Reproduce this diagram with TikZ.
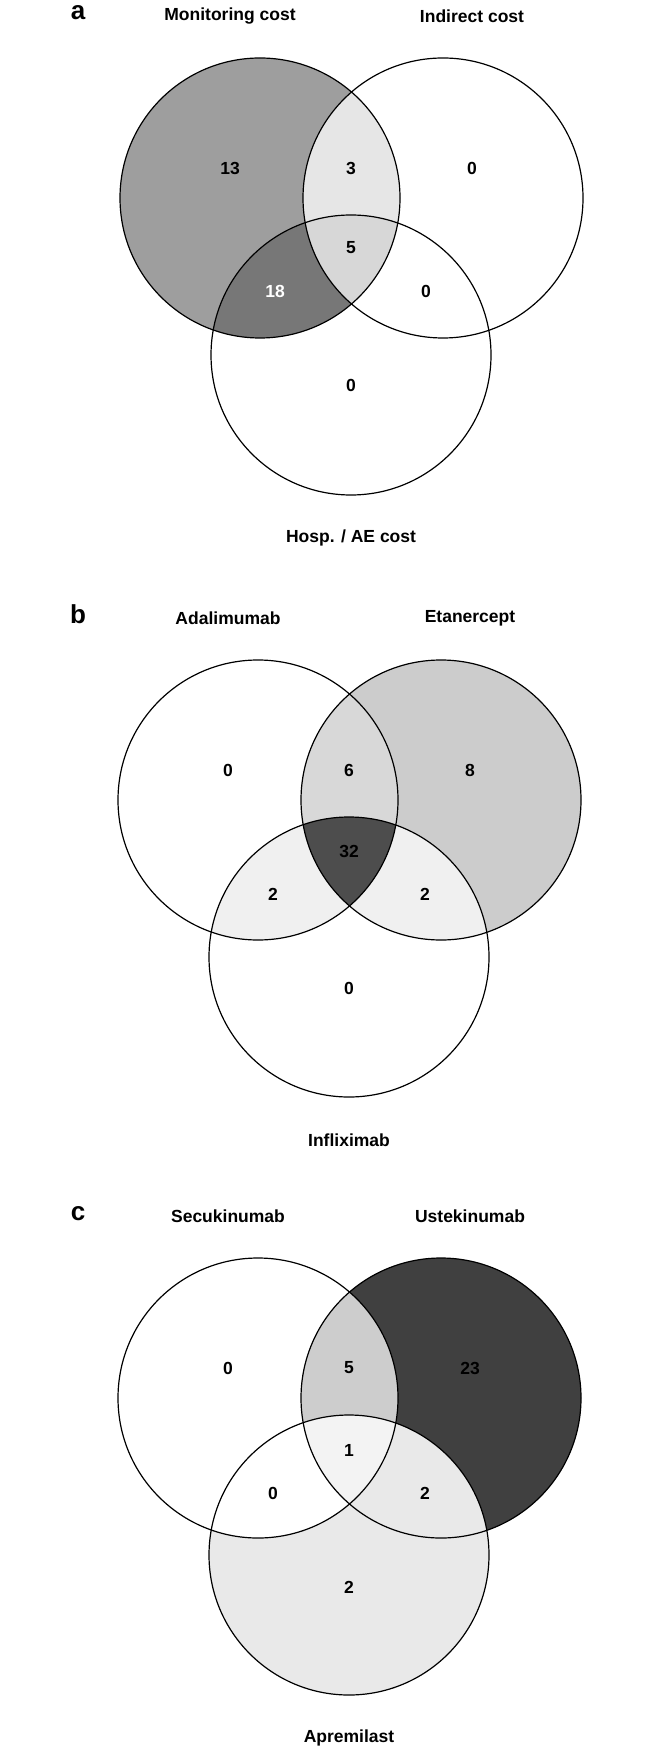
\documentclass[tikz,border=0pt]{standalone}
\usepackage{fontspec}
\setmainfont{Liberation Sans}
\definecolor{gA}{HTML}{9E9E9E}
\definecolor{gAB}{HTML}{E6E6E6}
\definecolor{gAC}{HTML}{777777}
\definecolor{gABC}{HTML}{D7D7D7}
\definecolor{hB}{HTML}{CCCCCC}
\definecolor{hAB}{HTML}{D8D8D8}
\definecolor{hX}{HTML}{F0F0F0}
\definecolor{hABC}{HTML}{4D4D4D}
\definecolor{kB}{HTML}{404040}
\definecolor{kAB}{HTML}{CDCDCD}
\definecolor{kC}{HTML}{E9E9E9}
\definecolor{kABC}{HTML}{F3F3F3}
\def\R{70pt}
\begin{document}
\begin{tikzpicture}[x=0.5pt,y=-0.5pt,
  ring/.style={draw=black,line width=0.6pt},
  lab/.style={font=\fontsize{8.75}{10}\selectfont\bfseries,inner sep=0pt},
  num/.style={font=\fontsize{8.75}{10}\selectfont\bfseries,inner sep=0pt},
  letter/.style={font=\fontsize{13}{15}\selectfont\bfseries,inner sep=0pt}]
\useasboundingbox[fill=white] (0,0) rectangle (650,1748);

% ---------------- panel a ----------------
\begin{scope}
\coordinate (aA) at (260,198);
\coordinate (aB) at (443,198);
\coordinate (aC) at (351,355);
\fill[gA] (aA) circle[radius=\R];
\begin{scope}\clip (aA) circle[radius=\R];
  \fill[gAB] (aB) circle[radius=\R];
  \fill[gAC] (aC) circle[radius=\R];
\end{scope}
\begin{scope}\clip (aA) circle[radius=\R]; \clip (aB) circle[radius=\R];
  \fill[gABC] (aC) circle[radius=\R];
\end{scope}
\draw[ring] (aA) circle[radius=\R];
\draw[ring] (aB) circle[radius=\R];
\draw[ring] (aC) circle[radius=\R];
\node[letter] (aL) at (78,13) {a};
\node[lab] (aLA) at (230,16) {Monitoring cost};
\node[lab] (aLB) at (472,16) {Indirect cost};
\node[lab] (aLC) at (351,538) {Hosp. / AE cost};
\node[num] (an1) at (230,168) {13};
\node[num] (an2) at (351,168) {3};
\node[num] (an3) at (472,168) {0};
\node[num] (an4) at (351,248) {5};
\node[num,text=white] (an5) at (275,291) {18};
\node[num] (an6) at (426,291) {0};
\node[num] (an7) at (351,385) {0};
\end{scope}

% ---------------- panel b ----------------
\begin{scope}[shift={(-2,602)}]
\coordinate (bA) at (260,198);
\coordinate (bB) at (443,198);
\coordinate (bC) at (351,355);
\fill[hB] (bB) circle[radius=\R];
\begin{scope}\clip (bA) circle[radius=\R];
  \fill[hAB] (bB) circle[radius=\R];
  \fill[hX] (bC) circle[radius=\R];
\end{scope}
\begin{scope}\clip (bB) circle[radius=\R];
  \fill[hX] (bC) circle[radius=\R];
\end{scope}
\begin{scope}\clip (bA) circle[radius=\R]; \clip (bB) circle[radius=\R];
  \fill[hABC] (bC) circle[radius=\R];
\end{scope}
\draw[ring] (bA) circle[radius=\R];
\draw[ring] (bB) circle[radius=\R];
\draw[ring] (bC) circle[radius=\R];
\node[letter] (bL) at (80,12) {b};
\node[lab] (bLA) at (230,16) {Adalimumab};
\node[lab] (bLB) at (472,16) {Etanercept};
\node[lab] (bLC) at (351,538) {Infliximab};
\node[num] (bn1) at (230,168) {0};
\node[num] (bn2) at (351,168) {6};
\node[num] (bn3) at (472,168) {8};
\node[num] (bn4) at (351,249) {32};
\node[num] (bn5) at (275,292) {2};
\node[num] (bn6) at (427,292) {2};
\node[num] (bn7) at (351,386) {0};
\end{scope}

% ---------------- panel c ----------------
\begin{scope}[shift={(-2,1200)}]
\coordinate (cA) at (260,198);
\coordinate (cB) at (443,198);
\coordinate (cC) at (351,355);
\fill[kB] (cB) circle[radius=\R];
\fill[kC] (cC) circle[radius=\R];
\begin{scope}\clip (cA) circle[radius=\R];
  \fill[white] (cC) circle[radius=\R];
  \fill[kAB] (cB) circle[radius=\R];
\end{scope}
\begin{scope}\clip (cA) circle[radius=\R]; \clip (cB) circle[radius=\R];
  \fill[kABC] (cC) circle[radius=\R];
\end{scope}
\draw[ring] (cA) circle[radius=\R];
\draw[ring] (cB) circle[radius=\R];
\draw[ring] (cC) circle[radius=\R];
\node[letter] (cL) at (80,14) {c};
\node[lab] (cLA) at (230,16) {Secukinumab};
\node[lab] (cLB) at (472,16) {Ustekinumab};
\node[lab] (cLC) at (351,538) {Apremilast};
\node[num] (cn1) at (230,168) {0};
\node[num] (cn2) at (351,168) {5};
\node[num] (cn3) at (472,168) {23};
\node[num] (cn4) at (351,250) {1};
\node[num] (cn5) at (275,293) {0};
\node[num] (cn6) at (427,293) {2};
\node[num] (cn7) at (351,387) {2};
\end{scope}
\end{tikzpicture}
\end{document}
